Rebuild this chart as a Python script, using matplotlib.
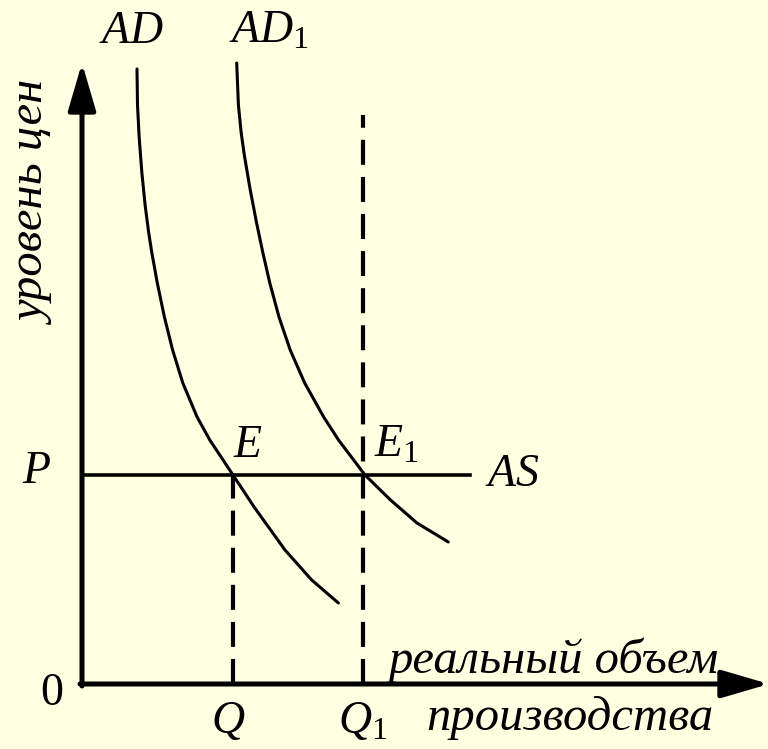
import matplotlib
matplotlib.use('Agg')
import matplotlib.pyplot as plt

# curve points (origin at the axes corner, pixel units)
ad_q = [55, 55.5, 57.2, 59.8, 63.1, 66.6, 69.7, 75.3, 82.4, 90.6, 100.8, 115.1,
        127.8, 151, 172.1, 203, 229.7, 256.4]
ad_p = [615, 579, 546, 512, 479, 452, 432, 401, 367, 334, 301, 267,
        244, 209, 177, 134, 104, 81]

ad1_q = [154.7, 156.4, 159.1, 162.3, 167.9, 174.4, 180.7, 187.8, 197.0, 208.2,
         222.7, 241.7, 256.5, 283, 308.5, 335, 366.3]
ad1_p = [621, 579, 552, 529, 496, 462, 432, 401, 367, 334,
         301, 267, 244, 209, 184, 161, 142]

price_p = 209       # AS level
q_e = 151           # equilibrium output E
q_e1 = 281          # equilibrium output E1 (vertical line)
as_end = 388
q1_top = 569

bg = '#FFFFE1'
plt.rcParams['mathtext.fontset'] = 'custom'
plt.rcParams['mathtext.it'] = 'Liberation Serif:italic'
plt.rcParams['mathtext.rm'] = 'Liberation Serif'
plt.rcParams['font.family'] = 'Liberation Serif'

fig = plt.figure(figsize=(7.68, 7.49), dpi=100, facecolor=bg)
ax = fig.add_axes([0, 0, 1, 1])
ax.set_facecolor(bg)
ax.set_xlim(-82, 686)
ax.set_ylim(-65, 684)
ax.axis('off')

# axes with arrows
arrow = dict(arrowstyle='-|>,head_length=2.9,head_width=0.85', mutation_scale=10,
             lw=3.6, color='black', shrinkA=0, shrinkB=0)
ax.annotate('', xy=(0, 621), xytext=(0, -2), arrowprops=arrow,
            annotation_clip=False)
ax.annotate('', xy=(687, 0), xytext=(-2, 0), arrowprops=arrow,
            annotation_clip=False)

# AS line and dashed guides
ax.plot([0, as_end], [price_p, price_p], color='black', lw=2.6)
ax.plot([q_e, q_e], [0, price_p], color='black', lw=3, dashes=(6, 2.9))
ax.plot([q_e1, q_e1], [0, q1_top], color='black', lw=3, dashes=(6, 2.9))

# demand curves
ax.plot(ad_q, ad_p, color='black', lw=2.2, solid_capstyle='round',
        solid_joinstyle='round')
ax.plot(ad1_q, ad1_p, color='black', lw=2.2, solid_capstyle='round',
        solid_joinstyle='round')

fs = 33
ax.text(49, 641, '$AD$', fontsize=fs, ha='center', va='baseline')
ax.text(147, 641, '$AD_1$', fontsize=fs, ha='left', va='baseline')
ax.text(151, 227, '$E$', fontsize=fs, ha='left', va='baseline')
ax.text(292, 227, '$E_1$', fontsize=fs, ha='left', va='baseline')
ax.text(-45, 201, '$P$', fontsize=fs, ha='center', va='baseline')
ax.text(403, 198, '$AS$', fontsize=fs, ha='left', va='baseline')
ax.text(-30, -21, '0', fontsize=fs, ha='center', va='baseline')
ax.text(146, -49, '$Q$', fontsize=fs, ha='center', va='baseline')
ax.text(256, -49, '$Q_1$', fontsize=fs, ha='left', va='baseline')

fs_ru = 35
ax.text(307, 11, 'реальный объем', fontsize=fs_ru, style='italic',
        ha='left', va='baseline')
ax.text(488, -46, 'производства', fontsize=fs_ru, style='italic',
        ha='center', va='baseline')
ax.text(-48, 480, 'уровень цен', fontsize=fs_ru, style='italic',
        rotation=90, ha='center', va='center')

fig.savefig('out.png', dpi=100, facecolor=bg)
